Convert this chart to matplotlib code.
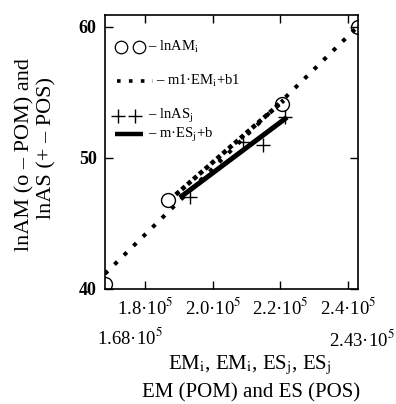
import matplotlib
matplotlib.use("Agg")
import matplotlib.pyplot as plt

plt.rcParams["font.family"] = ["Liberation Serif", "DejaVu Serif"]
plt.rcParams["mathtext.fontset"] = "stix"

# ── data ─────────────────────────────────────────────────────────────────────
EM = [1.68e5, 1.867e5, 2.205e5, 2.43e5]          # circles (POM)
lnAM = [40.4, 46.8, 54.1, 60.0]
fit1_x = [1.68e5, 2.43e5]                         # m1*EM + b1, full range
fit1_y = [41.15, 60.05]
fit1_dense_x = [1.89e5, 2.21e5]                   # denser part of the same trace
fit1_dense_y = [47.2, 54.4]
ES = [1.932e5, 2.089e5, 2.148e5, 2.214e5]         # crosses (POS)
lnAS = [47.0, 51.2, 50.96, 53.1]
fit_x = [1.902e5, 2.2195e5]                       # m*ES + b
fit_y = [46.97, 53.1]

xticks = [1.8e5, 2.0e5, 2.2e5, 2.4e5]
xtick_labels = [r"1.8·10$^{5}$", r"2.0·10$^{5}$", r"2.2·10$^{5}$", r"2.4·10$^{5}$"]
yticks = [40, 50, 60]

fig = plt.figure(figsize=(3.96, 4.04), dpi=100, facecolor="white")
ax = fig.add_axes([0.265, 0.285, 0.639, 0.678])

ax.plot(fit1_x, fit1_y, color="black", lw=2.9, linestyle=(0, (1, 2.3)),
        dash_capstyle="butt", zorder=2)
ax.plot(fit1_dense_x, fit1_dense_y, color="black", lw=3.3, linestyle=(0, (1, 0.7)),
        dash_capstyle="butt", zorder=2)
ax.plot(fit_x, fit_y, color="black", lw=3.6, solid_capstyle="butt", zorder=3)
ax.plot(EM, lnAM, "o", ms=10, mfc="none", mec="black", mew=1.0, zorder=4)
ax.plot(ES, lnAS, "+", ms=10.5, mec="black", mew=1.0, zorder=4)

ax.set_xlim(1.68e5, 2.43e5)
ax.set_ylim(40, 60.92)
ax.set_xticks(xticks)
ax.set_xticklabels(xtick_labels, fontsize=13.5)
ax.set_yticks(yticks)
ax.set_yticklabels([str(v) for v in yticks], fontsize=13, fontweight="bold")
ax.tick_params(direction="in", length=6, width=1, top=True, right=True, pad=6)
for s in ax.spines.values():
    s.set_linewidth(1.2)

# ── hand-made legend inside the axes ─────────────────────────────────────────
tr = ax.transAxes
ax.plot([0.063, 0.134], [0.883, 0.883], "o", ms=9, mfc="none", mec="black",
        mew=0.9, transform=tr, clip_on=False)
ax.text(0.17, 0.883, r"– lnAM$_{\rm i}$", transform=tr, fontsize=10.5, va="center")
ax.plot([0.047, 0.19], [0.759, 0.759], color="black", lw=2.6,
        linestyle=(0, (1, 2.3)), dash_capstyle="butt", transform=tr)
ax.text(0.2, 0.759, r"– m1·EM$_{\rm i}$+b1", transform=tr, fontsize=10.5, va="center")
ax.plot([0.051, 0.119], [0.632, 0.632], "+", ms=9.5, mec="black", mew=1.0,
        transform=tr, clip_on=False)
ax.text(0.17, 0.632, r"– lnAS$_{\rm j}$", transform=tr, fontsize=10.5, va="center")
ax.plot([0.04, 0.15], [0.566, 0.566], color="black", lw=3.2,
        solid_capstyle="butt", transform=tr)
ax.text(0.17, 0.562, r"– m·ES$_{\rm j}$+b", transform=tr, fontsize=10.5, va="center")

# ── range labels and axis titles ─────────────────────────────────────────────
fig.text(0.245, 1 - 337 / 404, r"1.68·10$^{5}$", fontsize=13.5, ha="left", va="center")
fig.text(0.998, 1 - 340 / 404, r"2.43·10$^{5}$", fontsize=13.5, ha="right", va="center")
fig.text(0.63, 1 - 365 / 404, r"EM$_{\rm i}$, EM$_{\rm i}$, ES$_{\rm j}$, ES$_{\rm j}$",
         fontsize=15, ha="center", va="center")
fig.text(0.635, 1 - 393 / 404, "EM (POM) and ES (POS)", fontsize=15,
         ha="center", va="center")
fig.text(25 / 396, 1 - 155 / 404, "lnAM (o – POM) and", fontsize=16, rotation=90,
         ha="center", va="center")
fig.text(47 / 396, 1 - 148 / 404, "lnAS (+ – POS)", fontsize=16, rotation=90,
         ha="center", va="center")

fig.savefig("out.png", dpi=100)
